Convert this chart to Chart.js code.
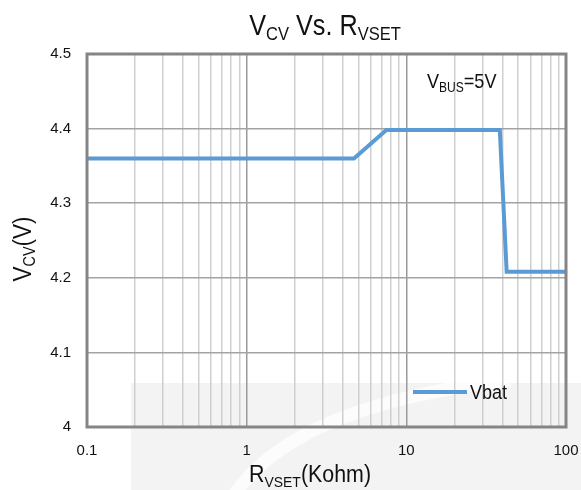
<!DOCTYPE html>
<html>
<head>
<meta charset="utf-8">
<script src="https://cdn.jsdelivr.net/npm/chart.js@4.4.0/dist/chart.umd.min.js"></script>
<style>
html,body{margin:0;padding:0;background:#fff;}
#wrap{width:581px;height:490px;position:relative;}
</style>
</head>
<body>
<div id="wrap"><canvas id="c" width="581" height="490"></canvas></div>
<script>
// Data
const rvset = [0.1, 4.7, 7.5, 38.5, 42.5, 100];
const vbat = [4.36, 4.36, 4.398, 4.398, 4.208, 4.208];
const xTickLabels = [0.1, 1, 10, 100];
const yTickValues = [4, 4.1, 4.2, 4.3, 4.4, 4.5];
const seriesName = 'Vbat';

const FONT = "'Liberation Sans', Arial, sans-serif";
const LINE_COLOR = '#5b9bd5';

function drawRich(ctx, parts, x, y, align, sx) {
  sx = sx || 1;
  let total = 0;
  parts.forEach(p => { ctx.font = p.size + 'px ' + FONT; p.w = ctx.measureText(p.t).width * sx; total += p.w; });
  let cx = align === 'center' ? x - total / 2 : x;
  ctx.textBaseline = 'alphabetic';
  ctx.textAlign = 'left';
  parts.forEach(p => {
    ctx.save();
    ctx.font = p.size + 'px ' + FONT;
    ctx.translate(cx, y + (p.dy || 0));
    ctx.scale(sx, 1);
    ctx.fillText(p.t, 0, 0);
    ctx.restore();
    cx += p.w;
  });
}

// minor ticks for log axis
const allXTicks = [];
for (let e = -1; e <= 1; e++) {
  for (let m = 1; m <= 9; m++) allXTicks.push(+(m * Math.pow(10, e)).toPrecision(3));
}
allXTicks.push(100);

const decor = {
  id: 'decor',
  beforeDraw(chart) {
    const ctx = chart.ctx;
    ctx.save();
    ctx.fillStyle = '#f3f3f3';
    ctx.fillRect(131, 383, 450, 107);
    // faint swoosh
    ctx.strokeStyle = 'rgba(255,255,255,0.7)';
    ctx.lineWidth = 13;
    ctx.beginPath();
    ctx.moveTo(234, 495);
    ctx.quadraticCurveTo(295, 405, 510, 380);
    ctx.stroke();
    ctx.restore();
  },
  afterDatasetsDraw(chart) {
    const ctx = chart.ctx;
    const a = chart.chartArea;
    ctx.save();
    ctx.strokeStyle = '#858585';
    ctx.lineWidth = 3;
    ctx.strokeRect(a.left, a.top, a.right - a.left, a.bottom - a.top);
    // legend
    ctx.strokeStyle = LINE_COLOR;
    ctx.lineWidth = 4;
    ctx.beginPath();
    ctx.moveTo(413, 392);
    ctx.lineTo(467, 392);
    ctx.stroke();
    ctx.fillStyle = '#111';
    drawRich(ctx, [{t: chart.data.datasets[0].label, size: 20}], 470, 399, 'left', 0.9);
    ctx.restore();
  },
  afterDraw(chart) {
    const ctx = chart.ctx;
    ctx.save();
    ctx.fillStyle = '#111';
    // title
    drawRich(ctx, [
      {t: 'V', size: 29}, {t: 'CV', size: 19, dy: 5}, {t: ' Vs. R', size: 29}, {t: 'VSET', size: 19, dy: 5}
    ], 325, 35, 'center', 0.87);
    // x title
    drawRich(ctx, [
      {t: 'R', size: 23}, {t: 'VSET', size: 15, dy: 5}, {t: '(Kohm)', size: 23}
    ], 310, 482, 'center', 0.93);
    // VBUS
    drawRich(ctx, [
      {t: 'V', size: 21}, {t: 'BUS', size: 14, dy: 4}, {t: '=5V', size: 21}
    ], 427, 88, 'left', 0.86);
    // y title
    ctx.translate(31, 249);
    ctx.rotate(-Math.PI / 2);
    drawRich(ctx, [
      {t: 'V', size: 25}, {t: 'CV', size: 16, dy: 4}, {t: '(V)', size: 25}
    ], 0, 0, 'center', 0.9);
    ctx.restore();
  }
};

new Chart(document.getElementById('c'), {
  type: 'line',
  data: {
    datasets: [{
      label: seriesName,
      data: rvset.map((x, i) => ({x: x, y: vbat[i]})),
      borderColor: LINE_COLOR,
      borderWidth: 4,
      pointRadius: 0,
      tension: 0,
      fill: false
    }]
  },
  options: {
    responsive: false,
    animation: false,
    layout: {padding: {top: 54, right: 15, left: 0, bottom: 0}},
    plugins: {legend: {display: false}, title: {display: false}, tooltip: {enabled: false}},
    scales: {
      x: {
        type: 'logarithmic',
        min: 0.1, max: 100,
        afterBuildTicks: s => { s.ticks = allXTicks.map(v => ({value: v})); },
        afterFit: s => { s.height = 63; s.paddingLeft = 0; s.paddingRight = 0; },
        border: {display: false},
        grid: {
          drawTicks: false,
          color: c => (xTickLabels.includes(c.tick && c.tick.value) ? '#9a9a9a' : '#cfcfcf'),
          lineWidth: 1.5
        },
        ticks: {
          autoSkip: false,
          maxRotation: 0,
          padding: 15,
          color: '#111',
          font: {family: FONT, size: 15},
          callback: v => (xTickLabels.includes(v) ? String(v) : '')
        }
      },
      y: {
        min: 4, max: 4.5,
        afterBuildTicks: s => { s.ticks = yTickValues.map(v => ({value: v})); },
        afterFit: s => { s.width = 87; s.paddingTop = 0; s.paddingBottom = 0; },
        border: {display: false},
        grid: {drawTicks: false, color: '#a3a3a3', lineWidth: 1.5},
        ticks: {
          padding: 16,
          color: '#111',
          font: {family: FONT, size: 15},
          callback: v => String(+v.toFixed(1))
        }
      }
    }
  },
  plugins: [decor]
});
</script>
</body>
</html>
